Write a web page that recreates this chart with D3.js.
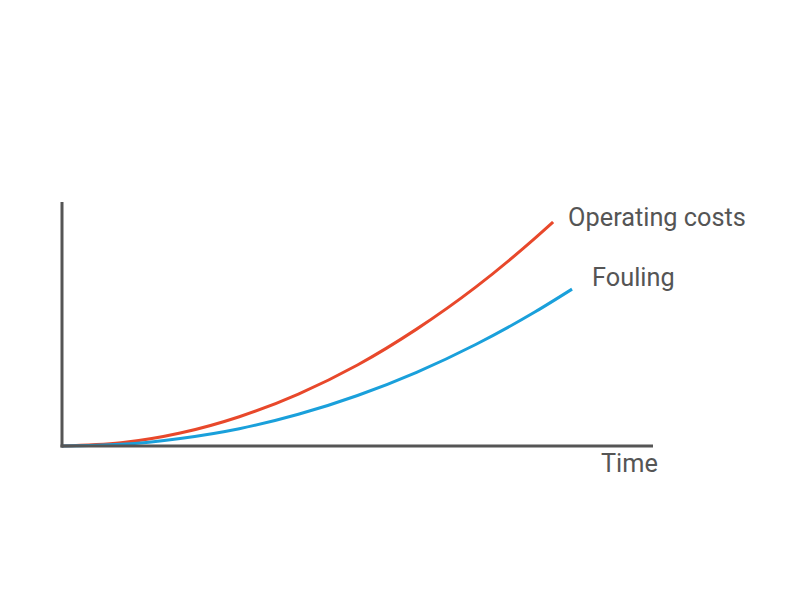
<!DOCTYPE html>
<html>
<head>
<meta charset="utf-8">
<script src="https://cdn.jsdelivr.net/npm/d3@7"></script>
<style>
  html, body { margin: 0; padding: 0; background: #fff; }
  svg { display: block; }
  text { font-family: Roboto, "Liberation Sans", sans-serif; fill: #555; }
</style>
</head>
<body>
<svg id="chart" width="800" height="600"></svg>
<script>
// Data (relative units)
const time = [0, 10, 20, 30, 40, 50, 60, 70, 80, 83.1];
const operatingCosts = [0, 1.3, 5.3, 12.0, 21.3, 33.2, 47.9, 65.1, 85.1, 91.8];
const timeFouling = [0, 10, 20, 30, 40, 50, 60, 70, 80, 86.3];
const fouling = [0, 0.7, 3.1, 7.1, 13.0, 20.7, 30.2, 41.6, 54.9, 64.3];
const seriesNames = ["Operating costs", "Fouling"];
const axisLabel = "Time";

const svg = d3.select("#chart");
const x = d3.scaleLinear().domain([0, 100]).range([62, 653]);
const y = d3.scaleLinear().domain([0, 100]).range([446, 202]);

const series = [
  { name: seriesNames[0], xs: time, ys: operatingCosts, color: "#e8482b", dx: 15, dy: 4 },
  { name: seriesNames[1], xs: timeFouling, ys: fouling, color: "#1aa0db", dx: 20, dy: -3 }
];

const line = d3.line()
  .x(d => x(d[0]))
  .y(d => y(d[1]))
  .curve(d3.curveMonotoneX);

series.forEach(s => {
  const pts = s.xs.map((t, i) => [t, s.ys[i]]);
  svg.append("path")
    .attr("d", line(pts))
    .attr("fill", "none")
    .attr("stroke", s.color)
    .attr("stroke-width", 3);
  const last = pts[pts.length - 1];
  svg.append("text")
    .attr("x", x(last[0]) + s.dx)
    .attr("y", y(last[1]) + s.dy)
    .attr("font-size", 25.3)
    .text(s.name);
});

// Axes
svg.append("line")
  .attr("x1", x(0)).attr("x2", x(0))
  .attr("y1", y(100)).attr("y2", y(0) + 1.5)
  .attr("stroke", "#555").attr("stroke-width", 3);
svg.append("line")
  .attr("x1", x(0) - 1.5).attr("x2", x(100))
  .attr("y1", y(0)).attr("y2", y(0))
  .attr("stroke", "#555").attr("stroke-width", 3);

svg.append("text")
  .attr("x", 601)
  .attr("y", 472)
  .attr("font-size", 25.3)
  .text(axisLabel);
</script>
</body>
</html>
